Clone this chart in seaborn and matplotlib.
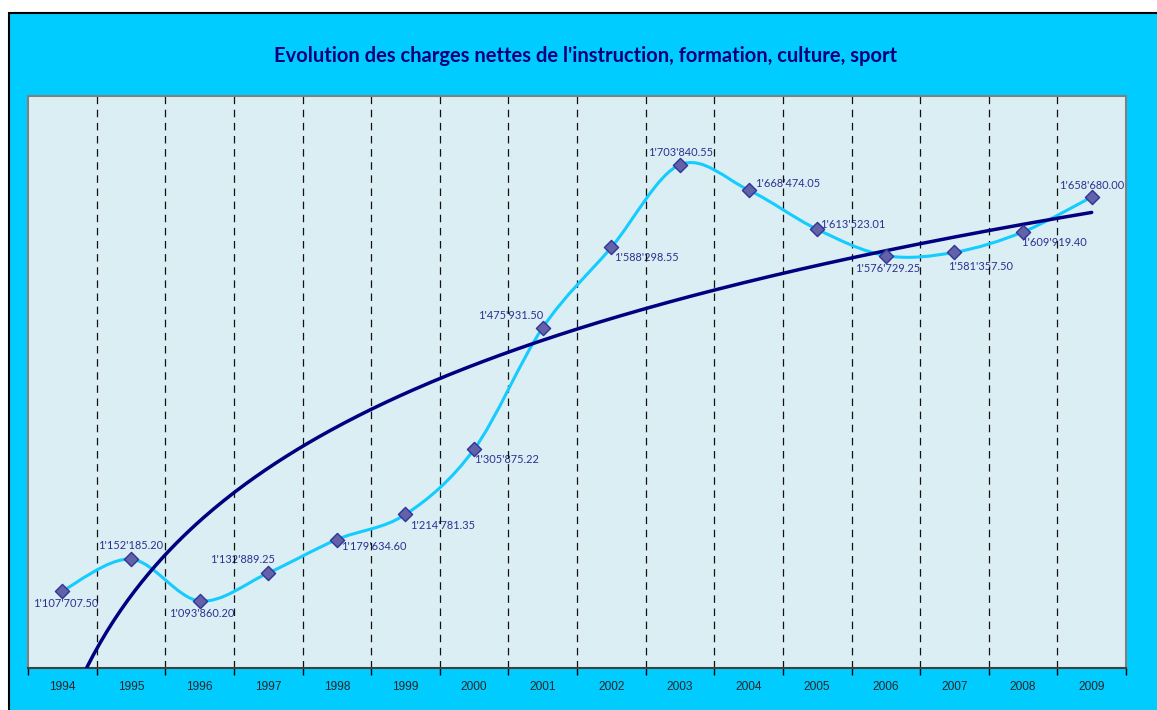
import numpy as np
import pandas as pd
import matplotlib.pyplot as plt
import seaborn as sns
from matplotlib.path import Path
from matplotlib.patches import PathPatch, Rectangle

# data
years = [1994, 1995, 1996, 1997, 1998, 1999, 2000, 2001,
         2002, 2003, 2004, 2005, 2006, 2007, 2008, 2009]
charges = [1107707.50, 1152185.20, 1093860.20, 1132889.25,
           1179634.60, 1214781.35, 1305875.22, 1475931.50,
           1588298.55, 1703840.55, 1668474.05, 1613523.01,
           1576729.25, 1581357.50, 1609919.40, 1658680.00]
title = "Evolution des charges nettes de l'instruction, formation, culture, sport"

# label placement (pixels: dx right, dy down) - style only
label_offsets = [(3, 13), (0, -14), (2, 13), (-26, -13), (37, 7), (37, 11),
                 (32, 10), (-32, -12), (35, 10), (1, -12), (39, -7), (36, -5),
                 (2, 13), (26, 14), (31, 11), (0, -12)]

df = pd.DataFrame({'idx': np.arange(len(years)), 'charges': charges})

sns.set_style('white')
plt.rcParams['font.family'] = ['Lato', 'DejaVu Sans']

W, H = 1157, 710
fig = plt.figure(figsize=(W / 100, H / 100), dpi=100)
fig.patch.set_facecolor('white')
bg = Rectangle((9 / W, -0.05), 1.0, (H - 13) / H + 0.05,
               transform=fig.transFigure, facecolor='#00CCFF',
               edgecolor='black', lw=1.5, zorder=-10)
fig.add_artist(bg)

ax = fig.add_axes([28 / W, 1 - 668 / H, (1126 - 28) / W, (668 - 96) / H])
ax.set_zorder(1)
ax.set_facecolor('#DAEEF3')

# smoothed line (bezier path through the points, like the spreadsheet "smooth line")
pts = df[['idx', 'charges']].to_numpy(dtype=float)
ext = np.vstack([pts[0], pts, pts[-1]])
verts, codes = [pts[0]], [Path.MOVETO]
for i in range(len(pts) - 1):
    p0, p1, p2, p3 = ext[i], ext[i + 1], ext[i + 2], ext[i + 3]
    verts += [p1 + (p2 - p0) / 6, p2 - (p3 - p1) / 6, p2]
    codes += [Path.CURVE4] * 3
ax.add_patch(PathPatch(Path(verts, codes), facecolor='none',
                       edgecolor='#14CCFF', lw=2.2, zorder=3))

# logarithmic trend line
a, b = np.polyfit(np.log(df['idx'] + 1), df['charges'], 1)
xt = np.linspace(1, len(years), 300)
sns.lineplot(x=xt - 1, y=a * np.log(xt) + b, color='#000080', lw=2.5,
             ax=ax, zorder=4)

sns.scatterplot(data=df, x='idx', y='charges', marker='D', s=52,
                color='#6262A8', edgecolor='#333399', linewidth=1,
                ax=ax, zorder=5)

for xi, yi, (dx, dy) in zip(df['idx'], df['charges'], label_offsets):
    txt = f"{yi:,.2f}".replace(',', "'")
    ax.annotate(txt, (xi, yi), xytext=(dx, -dy), textcoords='offset pixels',
                ha='center', va='center', fontsize=7.9, color='#2E2E90',
                zorder=1.5)

# dashed separators between years
for sep in np.arange(0.5, len(years) - 1, 1):
    ax.axvline(sep, color='#111111', lw=0.9, dashes=(6, 4.5), zorder=2)

ax.set_xlim(-0.5, len(years) - 0.5)
ax.set_ylim(1000000, 1800000)
ax.set_xticks(df['idx'])
ax.set_xticklabels(years, family=['Liberation Sans'], fontsize=8.6)
ax.set_xticks(np.arange(-0.5, len(years), 1), minor=True)
ax.tick_params(axis='x', which='major', length=0, pad=9)
ax.tick_params(axis='x', which='minor', length=5, width=1, color='black',
               direction='out', bottom=True)
ax.set_yticks([])
ax.set_xlabel('')
ax.set_ylabel('')
for side in ['left', 'top', 'right']:
    ax.spines[side].set_color('#808080')
    ax.spines[side].set_linewidth(1.5)
ax.spines['bottom'].set_color('#404040')
ax.spines['bottom'].set_linewidth(1.5)

fig.text(586 / W, 1 - 56 / H, title, ha='center', va='center',
         fontsize=14.5, fontweight='bold', color='#000080')

fig.savefig('out.png', dpi=100)
